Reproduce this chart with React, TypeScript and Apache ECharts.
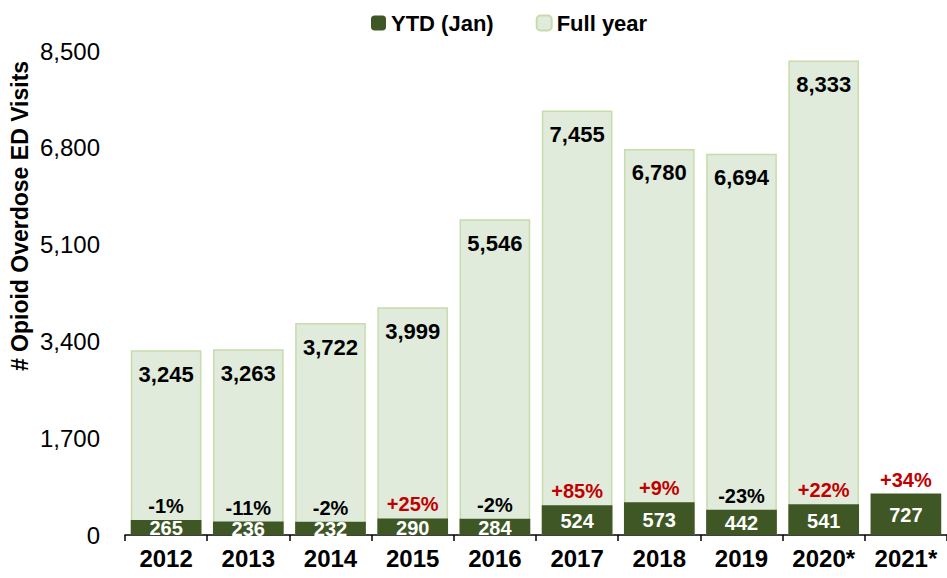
import React, { useEffect, useRef } from "react";
import * as echarts from "echarts";

const categories = ["2012", "2013", "2014", "2015", "2016", "2017", "2018", "2019", "2020*", "2021*"];
const ytdValues = [265, 236, 232, 290, 284, 524, 573, 442, 541, 727];
const fullYearValues: (number | null)[] = [3245, 3263, 3722, 3999, 5546, 7455, 6780, 6694, 8333, null];
const pctChanges = ["-1%", "-11%", "-2%", "+25%", "-2%", "+85%", "+9%", "-23%", "+22%", "+34%"];
const yTicks = { min: 0, max: 8500, interval: 1700 };
const yAxisTitle = "# Opioid Overdose ED Visits";

const DARK = "#3e5725";
const LIGHT = "#e0ebdc";
const LIGHT_BORDER = "#c7dcaa";
const RED = "#c00000";
const FONT = "Liberation Sans, Arial, sans-serif";

export default function App() {
  const ref = useRef<HTMLDivElement>(null);
  useEffect(() => {
    if (!ref.current) return;
    const chart = echarts.init(ref.current, null, { renderer: "svg" });
    chart.setOption({
      animation: false,
      textStyle: { fontFamily: FONT },
      legend: {
        top: 7,
        left: 366,
        data: ["YTD (Jan)", "Full year"],
        itemWidth: 15,
        itemHeight: 15,
        itemGap: 42,
        textStyle: { fontSize: 22, fontWeight: "bold", color: "#000", fontFamily: FONT },
      },
      graphic: [
        {
          type: "text",
          x: 20,
          y: 216,
          rotation: Math.PI / 2,
          style: {
            text: yAxisTitle,
            fontSize: 23,
            fontWeight: "bold",
            fill: "#000",
            fontFamily: FONT,
            textAlign: "center",
            textVerticalAlign: "middle",
          },
        },
      ],
      grid: { left: 125, right: -4, top: 51, bottom: 43, containLabel: false },
      xAxis: {
        type: "category",
        data: categories,
        axisLine: { show: true, lineStyle: { color: "#000", width: 1.5 } },
        axisTick: { show: true, length: 6, lineStyle: { color: "#000", width: 1.5 } },
        axisLabel: { fontSize: 24, fontWeight: "bold", color: "#000", margin: 11, fontFamily: FONT },
      },
      yAxis: {
        type: "value",
        min: yTicks.min,
        max: yTicks.max,
        interval: yTicks.interval,
        axisLine: { show: false },
        axisTick: { show: false },
        splitLine: { show: false },
        axisLabel: {
          fontSize: 24,
          color: "#000",
          margin: 25,
          fontFamily: FONT,
          formatter: (v: number) => v.toLocaleString("en-US"),
        },
      },
      series: [
        {
          name: "Full year",
          type: "bar",
          data: fullYearValues,
          barCategoryGap: "14%",
          itemStyle: { color: LIGHT, borderColor: LIGHT_BORDER, borderWidth: 1.5 },
          label: {
            show: true,
            position: "insideTop",
            distance: 13,
            fontSize: 22,
            fontWeight: "bold",
            color: "#000",
            fontFamily: FONT,
            formatter: (p: any) => (p.value == null ? "" : Number(p.value).toLocaleString("en-US")),
          },
          z: 1,
        },
        {
          name: "YTD (Jan)",
          type: "bar",
          data: ytdValues,
          barGap: "-100%",
          itemStyle: { color: DARK },
          label: {
            show: true,
            position: "inside",
            offset: [0, 1],
            fontSize: 20,
            fontWeight: "bold",
            color: "#fff",
            fontFamily: FONT,
            formatter: (p: any) => Number(p.value).toLocaleString("en-US"),
          },
          z: 3,
        },
        {
          name: "pct",
          type: "bar",
          data: ytdValues,
          barGap: "-100%",
          itemStyle: { color: "rgba(0,0,0,0)" },
          silent: true,
          label: {
            show: true,
            position: "top",
            distance: 4,
            fontSize: 20,
            fontWeight: "bold",
            fontFamily: FONT,
            formatter: (p: any) => {
              const t = pctChanges[p.dataIndex];
              return t.startsWith("+") ? `{r|${t}}` : `{b|${t}}`;
            },
            rich: {
              r: { color: RED, fontSize: 20, fontWeight: "bold", fontFamily: FONT },
              b: { color: "#000", fontSize: 20, fontWeight: "bold", fontFamily: FONT },
            },
          },
          z: 4,
        },
      ],
    });
    return () => chart.dispose();
  }, []);
  return (
    <div
      ref={ref}
      style={{ position: "absolute", left: 0, top: 0, width: 947, height: 578 }}
    />
  );
}
